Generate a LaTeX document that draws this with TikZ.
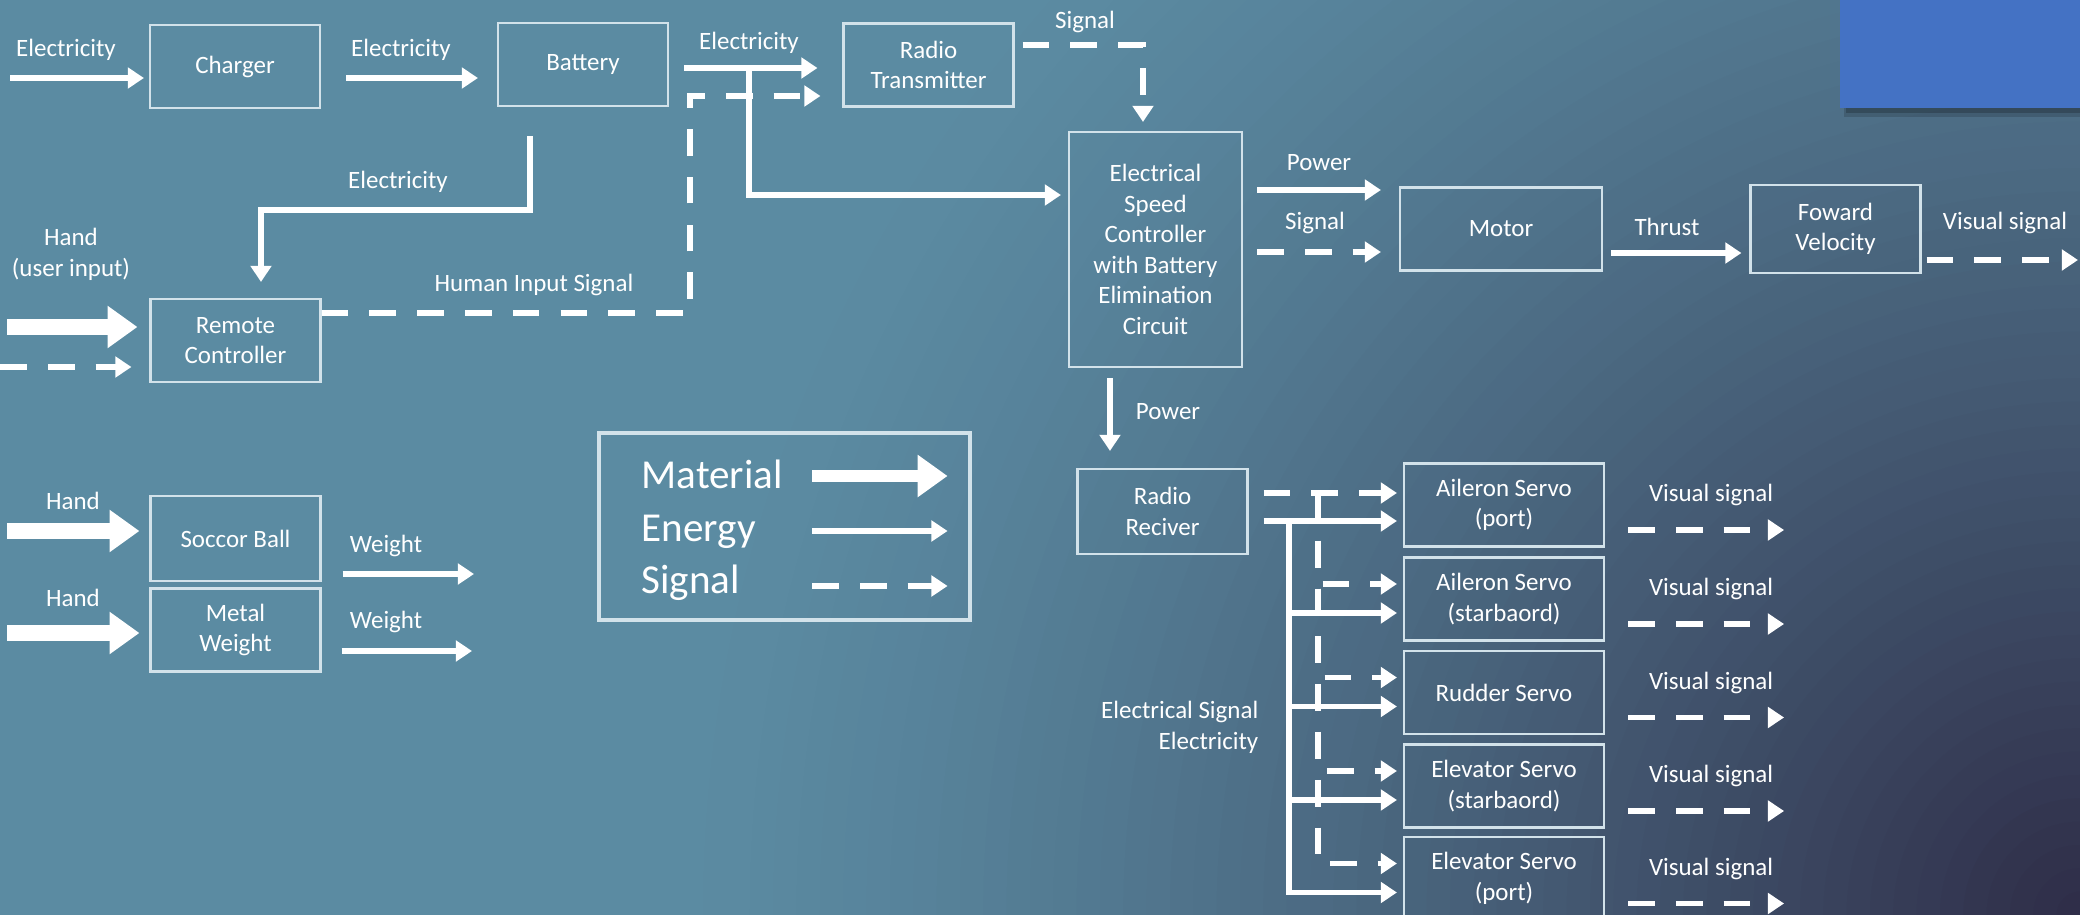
\documentclass[tikz,border=0pt]{standalone}
\usepackage{fontspec}
\setmainfont{Carlito}
\usetikzlibrary{arrows.meta,calc}

\definecolor{bgteal}{HTML}{5B8BA2}
\definecolor{bgdark}{HTML}{2E2B46}
\definecolor{accent}{HTML}{4472C4}
\definecolor{boxline}{HTML}{D2E2EA}

\newcommand{\smallfs}{\fontsize{7.1pt}{8.7pt}\selectfont}
\newcommand{\keyfs}{\fontsize{11.7pt}{14pt}\selectfont}

\begin{document}
\begin{tikzpicture}[
    box/.style={draw=boxline, line width=0.6pt, text=white, align=center, inner sep=0pt,
        minimum width=1.70cm, minimum height=0.83cm, font=\smallfs},
    lbl/.style={text=white, align=center, inner sep=0pt, font=\smallfs},
    energy/.style={white, line width=1.7pt, -{Triangle[length=4.6pt,width=5.8pt]}},
    material/.style={white, line width=4.6pt, -{Triangle[length=8.5pt,width=11.5pt]}},
    signal/.style={white, line width=1.7pt, dash pattern=on 7.6pt off 6pt,
        -{Triangle[length=4.6pt,width=5.8pt]}}
]
    % Background
    \useasboundingbox (0,0) rectangle (20.8,-9.15);
    \fill[bgteal] (0,0) rectangle (20.8,-9.15);
    \begin{scope}
        \clip (0,0) rectangle (20.8,-9.15);
        \foreach \k in {1,...,60} {
            \pgfmathsetmacro\r{14*(1-(\k-1)/60)}
            \pgfmathtruncatemacro\p{100*(\k/61)^1.35}
            \fill[bgdark!\p!bgteal] (20.8,-9.15) circle (\r);
        }
    \end{scope}

    % Corner block
    \fill[black, opacity=0.15] (18.44,-1.00) rectangle (20.8,-1.17);
    \fill[black, opacity=0.2] (18.46,-1.02) rectangle (20.8,-1.13);
    \fill[accent] (18.40,0) rectangle (20.8,-1.08);

    % Boxes
    \node[box] (charger) at (2.35,-0.665) {Charger};
    \node[box] (battery) at (5.83,-0.645) {Battery};
    \node[box] (radiotx) at (9.285,-0.65) {Radio\\Transmitter};
    \node[box] (remote) at (2.355,-3.405) {Remote\\Controller};
    \node[box, minimum height=0.85cm] (ball) at (2.355,-5.385) {Soccor Ball};
    \node[box] (metal) at (2.355,-6.30) {Metal\\Weight};
    \node[box, minimum width=1.73cm, minimum height=2.35cm] (esc) at (11.555,-2.495)
        {Electrical\\Speed\\Controller\\with Battery\\Elimination\\Circuit};
    \node[box, minimum width=2.02cm] (motor) at (15.01,-2.29) {Motor};
    \node[box, minimum height=0.88cm] (velocity) at (18.355,-2.29) {Foward\\Velocity};
    \node[box, minimum height=0.85cm] (receiver) at (11.625,-5.115) {Radio\\Reciver};
    \foreach \i/\y/\name in {1/-5.05/{Aileron Servo\\(port)}, 2/-5.99/{Aileron Servo\\(starbaord)},
        3/-6.925/{Rudder Servo}, 4/-7.86/{Elevator Servo\\(starbaord)}, 5/-8.785/{Elevator Servo\\(port)}}
        \node[box, minimum width=2.00cm] (servo\i) at (15.04,\y) {\name};

    % Charger and battery
    \coordinate (mainsin) at (0.10,-0.78);
    \draw[energy, shorten >=0.5mm] (mainsin) -- (mainsin -| charger.west);
    \node[lbl] (elec1) at (0.66,-0.50) {Electricity};
    \draw[energy, shorten <=2.5mm, shorten >=1.9mm] ([yshift=-1.15mm]charger.east) -- ([yshift=-1.15mm]charger.east -| battery.west);
    \node[lbl] (elec2) at (4.01,-0.50) {Electricity};
    \draw[energy, shorten <=1.5mm, shorten >=2.5mm] ([yshift=-0.35mm]battery.east) -- ([yshift=-0.35mm]battery.east -| radiotx.west);
    \node[lbl] (elec3) at (7.49,-0.43) {Electricity};

    % Battery to remote
    \draw[energy, shorten <=2.9mm, shorten >=1.6mm] ([xshift=-5.3mm]battery.south) -- ++(0,-1.03) -| ([xshift=2.55mm]remote.north);
    \node[lbl] (elec4) at (3.98,-1.82) {Electricity};

    % Remote signal up to transmitter
    \coordinate (sigup) at (6.90,-0.96);
    \draw[signal, shorten >=2.2mm] ([yshift=2.75mm]remote.east) -| (sigup) -- (sigup -| radiotx.west);
    \node[lbl] (human) at (5.34,-2.85) {Human Input Signal};

    % Battery to speed controller
    \coordinate (tap) at (7.49,-0.68);
    \draw[energy, shorten >=0.7mm] (tap) |- ([yshift=5.45mm]esc.west);

    % Hand input
    \coordinate (handin) at (0.07,-3.27);
    \draw[material, shorten >=1.2mm] (handin) -- (handin -| remote.west);
    \coordinate (handsig) at (0,-3.67);
    \draw[signal, shorten >=1.8mm] (handsig) -- (handsig -| remote.west);
    \node[lbl] (hand1) at (0.71,-2.545) {Hand\\(user input)};

    % Transmitter to speed controller
    \draw[signal, shorten <=0.8mm, shorten >=0.9mm] ([yshift=2mm]radiotx.east) -| ([xshift=-1.25mm]esc.north);
    \node[lbl] (sig1) at (10.85,-0.22) {Signal};

    % Speed controller to motor
    \draw[energy, shorten <=1.4mm, shorten >=1.8mm] ([yshift=5.95mm]esc.east) -- ([yshift=5.95mm]esc.east -| motor.west);
    \node[lbl] (pow1) at (13.19,-1.63) {Power};
    \draw[signal, shorten <=1.4mm, shorten >=1.8mm] ([yshift=-0.25mm]esc.east) -- ([yshift=-0.25mm]esc.east -| motor.west);
    \node[lbl] (sig2) at (13.15,-2.23) {Signal};
    \draw[energy, shorten <=0.8mm, shorten >=0.8mm] ([yshift=-2.4mm]motor.east) -- ([yshift=-2.4mm]motor.east -| velocity.west);
    \node[lbl] (thrust) at (16.67,-2.27) {Thrust};
    \coordinate (velout) at (20.78,-2.60);
    \draw[signal, shorten <=0.5mm] (velout -| velocity.east) -- (velout);
    \node[lbl] (vis0) at (20.05,-2.23) {Visual signal};

    % Speed controller to receiver
    \draw[energy, shorten <=1mm, shorten >=1.7mm] ([xshift=-4.55mm]esc.south) -- ([xshift=-4.55mm]esc.south |- receiver.north);
    \node[lbl] (pow2) at (11.68,-4.12) {Power};

    % Receiver to servos
    \coordinate (dbus) at (13.18,-4.93);
    \coordinate (sbus) at (12.89,-5.21);
    \draw[signal, shorten <=1.5mm, shorten >=0.6mm] ([yshift=1.85mm]receiver.east) -- ([yshift=1.85mm]receiver.east -| servo1.west);
    \draw[energy, shorten <=1.5mm, shorten >=0.6mm] ([yshift=-0.95mm]receiver.east) -- ([yshift=-0.95mm]receiver.east -| servo1.west);
    \foreach \i in {2,...,5} {
        \draw[signal, shorten >=0.6mm] (dbus) |- ([yshift=1.5mm]servo\i.west);
        \draw[energy, shorten >=0.6mm] (sbus) |- ([yshift=-1.4mm]servo\i.west);
    }
    \node[lbl, align=right, anchor=east] (bus) at (12.59,-7.275) {Electrical Signal\\Electricity};

    % Servo outputs
    \foreach \i in {1,...,5} {
        \coordinate (vis\i) at ($(servo\i.east)+(1.79,-0.25)$);
        \draw[signal, shorten <=2.3mm] (vis\i -| servo\i.east) -- (vis\i);
        \node[lbl] (vislbl\i) at ($(servo\i.east)+(1.06,0.10)$) {Visual signal};
    }

    % Ball and weight
    \coordinate (handball) at (0.07,-5.31);
    \draw[material, shorten >=1mm] (handball) -- (handball -| ball.west);
    \node[lbl] (hand2) at (0.73,-5.01) {Hand};
    \coordinate (wball) at (4.74,-5.74);
    \draw[energy, shorten <=2.1mm] (wball -| ball.east) -- (wball);
    \node[lbl] (weight1) at (3.86,-5.46) {Weight};
    \coordinate (handmetal) at (0.07,-6.33);
    \draw[material, shorten >=1mm] (handmetal) -- (handmetal -| metal.west);
    \node[lbl] (hand3) at (0.73,-5.98) {Hand};
    \coordinate (wmetal) at (4.72,-6.51);
    \draw[energy, shorten <=2mm] (wmetal -| metal.east) -- (wmetal);
    \node[lbl] (weight2) at (3.86,-6.22) {Weight};

    % Legend
    \node[box, line width=0.9pt, minimum width=3.71cm, minimum height=1.87cm] (legend) at (7.845,-5.265) {};
    \node[lbl, font=\keyfs, anchor=base west] (keymat) at (6.41,-4.88) {Material};
    \node[lbl, font=\keyfs, anchor=base west] (keyenergy) at (6.41,-5.41) {Energy};
    \node[lbl, font=\keyfs, anchor=base west] (keysignal) at (6.41,-5.93) {Signal};
    \coordinate (keyA) at (8.12,-4.76);
    \coordinate (keyB) at (8.12,-5.31);
    \coordinate (keyC) at (8.12,-5.86);
    \draw[material, line width=3.6pt, shorten >=2.4mm] (keyA) -- (keyA -| legend.east);
    \draw[energy, shorten >=2.4mm] (keyB) -- (keyB -| legend.east);
    \draw[signal, shorten >=2.4mm] (keyC) -- (keyC -| legend.east);
\end{tikzpicture}
\end{document}
